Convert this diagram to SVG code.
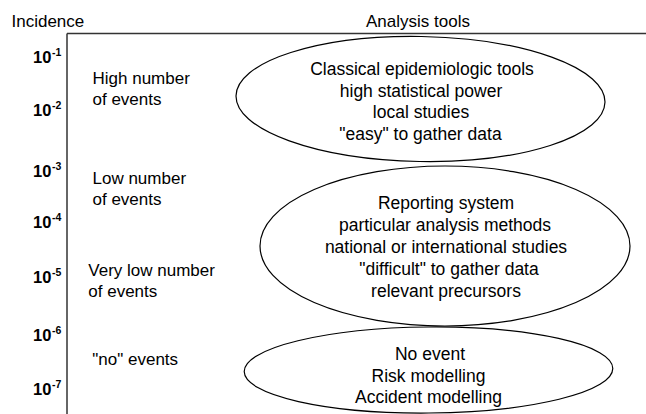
<svg xmlns="http://www.w3.org/2000/svg" width="646" height="414" viewBox="0 0 646 414">
<style>
text{font-family:"Liberation Sans",Arial,sans-serif;fill:#000}
.lbl{font-size:17px}
.in{font-size:17.5px;text-anchor:middle}
.tk{font-size:16.5px;font-weight:bold}
.sup{font-size:10.5px;font-weight:bold}
.ax{stroke:#333;stroke-width:1.5;fill:none}
.ell{fill:none;stroke:#000;stroke-width:1.2}
</style>
<rect width="646" height="414" fill="#fff"/>
<g id="axes">
<line class="ax" x1="67" y1="33.5" x2="646" y2="33.5"/>
<line class="ax" x1="67" y1="33.5" x2="67" y2="414"/>
<text class="lbl" x="11.5" y="27">Incidence</text>
<text class="lbl" x="366" y="27">Analysis tools</text>
</g>
<g id="ticks">
<text class="tk" x="33" y="63">10</text><text class="sup" x="52" y="55.5">-1</text>
<text class="tk" x="33" y="116">10</text><text class="sup" x="52" y="108.5">-2</text>
<text class="tk" x="33" y="177">10</text><text class="sup" x="52" y="169.5">-3</text>
<text class="tk" x="33" y="228">10</text><text class="sup" x="52" y="220.5">-4</text>
<text class="tk" x="33" y="283">10</text><text class="sup" x="52" y="275.5">-5</text>
<text class="tk" x="33" y="341">10</text><text class="sup" x="52" y="333.5">-6</text>
<text class="tk" x="33" y="395">10</text><text class="sup" x="52" y="387.5">-7</text>
</g>
<g id="levels">
<text class="lbl" x="92.5" y="83.5">High number</text>
<text class="lbl" x="92.5" y="105">of events</text>
<text class="lbl" x="92.5" y="183.5">Low number</text>
<text class="lbl" x="92.5" y="205">of events</text>
<text class="lbl" x="88.3" y="275.5">Very low number</text>
<text class="lbl" x="88.3" y="297">of events</text>
<text class="lbl" x="92.3" y="365">"no" events</text>
</g>
<g id="node-classical">
<ellipse class="ell" cx="420.5" cy="99" rx="184.5" ry="62.5" transform="rotate(1 420.5 99)"/>
<text class="in" x="422" y="75">Classical epidemiologic tools</text>
<text class="in" x="421" y="96.7">high statistical power</text>
<text class="in" x="421" y="118.3">local studies</text>
<text class="in" x="420.5" y="140">"easy" to gather data</text>
</g>
<g id="node-reporting">
<ellipse class="ell" cx="445" cy="246" rx="185" ry="80"/>
<text class="in" x="446" y="208.5">Reporting system</text>
<text class="in" x="445" y="231">particular analysis methods</text>
<text class="in" x="446" y="253">national or international studies</text>
<text class="in" x="449" y="275">"difficult" to gather data</text>
<text class="in" x="446" y="297">relevant precursors</text>
</g>
<g id="node-modelling">
<ellipse class="ell" cx="428.5" cy="370" rx="184.3" ry="43" transform="rotate(-0.5 428.5 370)"/>
<text class="in" x="430" y="360">No event</text>
<text class="in" x="428.5" y="381.7">Risk modelling</text>
<text class="in" x="428.5" y="403">Accident modelling</text>
</g>
<g id="connectors"/>
</svg>
